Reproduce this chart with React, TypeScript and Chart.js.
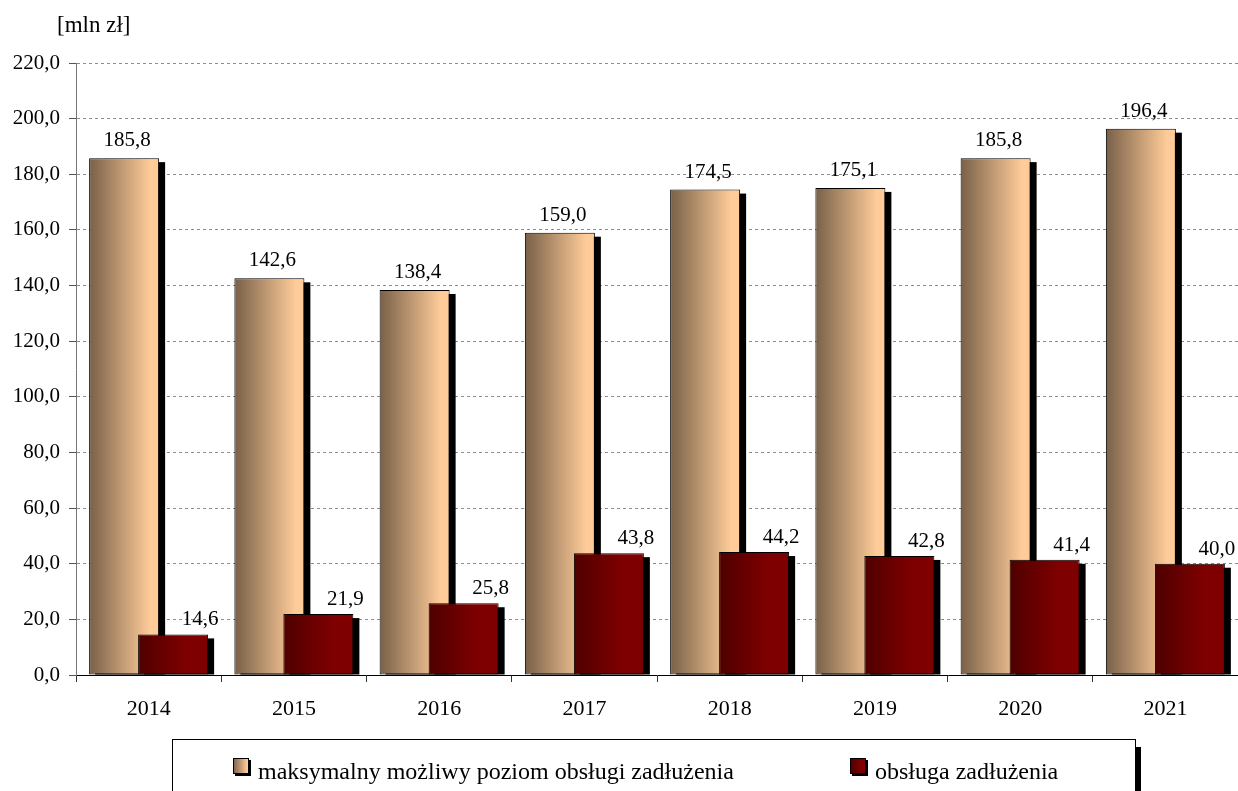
import React, { useEffect, useRef } from 'react';
import { Chart, registerables } from 'chart.js';

Chart.register(...registerables);

const categories = ['2014', '2015', '2016', '2017', '2018', '2019', '2020', '2021'];
const maxDebtService = [185.8, 142.6, 138.4, 159.0, 174.5, 175.1, 185.8, 196.4];
const debtService = [14.6, 21.9, 25.8, 43.8, 44.2, 42.8, 41.4, 40.0];
const seriesNames = ['maksymalny możliwy poziom obsługi zadłużenia', 'obsługa zadłużenia'];
const unitLabel = '[mln zł]';
const yMin = 0;
const yMax = 220;
const yStep = 20;

const FONT = '"Liberation Serif", "Times New Roman", serif';
const fmt = (v: number) => v.toFixed(1).replace('.', ',');

function beigeGrad(ctx: CanvasRenderingContext2D, x0: number, x1: number) {
  const g = ctx.createLinearGradient(x0, 0, x1, 0);
  g.addColorStop(0, '#786048');
  g.addColorStop(0.88, '#ffcc99');
  g.addColorStop(1, '#ffcc99');
  return g;
}
function redGrad(ctx: CanvasRenderingContext2D, x0: number, x1: number) {
  const g = ctx.createLinearGradient(x0, 0, x1, 0);
  g.addColorStop(0, '#4e0000');
  g.addColorStop(0.7, '#7f0000');
  g.addColorStop(1, '#800000');
  return g;
}

const excelPlugin = {
  id: 'excelBars',
  beforeDatasetsDraw(chart: any) {
    const ctx: CanvasRenderingContext2D = chart.ctx;
    const area = chart.chartArea;
    [0, 1].forEach((di) => {
      const meta = chart.getDatasetMeta(di);
      meta.data.forEach((el: any) => {
        const { x, y, base, width } = el.getProps(['x', 'y', 'base', 'width'], true);
        const l = x - width / 2;
        const r = x + width / 2;
        ctx.save();
        ctx.fillStyle = '#000';
        ctx.fillRect(l + 6, y + 4, width, base - y - 4);
        ctx.restore();
        el.options = Object.assign({}, el.options, {
          backgroundColor: di === 0 ? beigeGrad(ctx, l, r) : redGrad(ctx, l, r),
        });
        el.draw(ctx, area);
      });
    });
    return false;
  },
  afterDraw(chart: any) {
    const ctx: CanvasRenderingContext2D = chart.ctx;
    ctx.save();
    ctx.font = `21px ${FONT}`;
    ctx.fillStyle = '#000';
    ctx.textBaseline = 'alphabetic';
    ctx.textAlign = 'center';
    chart.getDatasetMeta(0).data.forEach((el: any, i: number) => {
      ctx.fillText(fmt(maxDebtService[i]), el.x + 3, el.y - 12);
    });
    chart.getDatasetMeta(1).data.forEach((el: any, i: number) => {
      ctx.fillText(fmt(debtService[i]), el.x + 27, el.y - 9);
    });

    // unit label
    ctx.font = `23px ${FONT}`;
    ctx.textAlign = 'left';
    ctx.fillText(unitLabel, 57, 32);

    // legend box
    const lx = 172, ly = 739, lw = 963, lh = 70;
    ctx.fillStyle = '#000';
    ctx.fillRect(lx + lw, ly + 8, 6, lh);
    ctx.fillStyle = '#fff';
    ctx.fillRect(lx, ly, lw, lh);
    ctx.strokeStyle = '#000';
    ctx.lineWidth = 1;
    ctx.strokeRect(lx + 0.5, ly + 0.5, lw, lh);

    ctx.font = `24px ${FONT}`;
    const items = [
      { x: 233, grad: beigeGrad, text: seriesNames[0] },
      { x: 850, grad: redGrad, text: seriesNames[1] },
    ];
    items.forEach((it) => {
      const sx = it.x, sy = 758, sw = 16, sh = 16;
      ctx.fillStyle = '#000';
      ctx.fillRect(sx + 2, sy + 2, sw, sh);
      ctx.fillStyle = it.grad(ctx, sx, sx + sw);
      ctx.fillRect(sx, sy, sw, sh);
      ctx.strokeStyle = '#000';
      ctx.strokeRect(sx + 0.5, sy + 0.5, sw - 1, sh - 1);
      ctx.fillStyle = '#000';
      ctx.textAlign = 'left';
      ctx.fillText(it.text, sx + 25, 779);
    });
    ctx.restore();
  },
};

export default function App() {
  const ref = useRef<HTMLCanvasElement>(null);
  useEffect(() => {
    const chart = new Chart(ref.current as HTMLCanvasElement, {
      type: 'bar',
      data: {
        labels: categories,
        datasets: [
          {
            label: seriesNames[0],
            data: maxDebtService,
            backgroundColor: () => '#ffcc99',
            borderColor: '#000',
            borderWidth: 1,
            borderSkipped: false,
            categoryPercentage: 0.6747,
            barPercentage: 1.4286,
          },
          {
            label: seriesNames[1],
            data: debtService,
            backgroundColor: () => '#800000',
            borderColor: '#000',
            borderWidth: 1,
            borderSkipped: false,
            categoryPercentage: 0.6747,
            barPercentage: 1.4286,
          },
        ],
      },
      options: {
        responsive: false,
        animation: false,
        events: [],
        layout: { padding: { top: 63, left: 0, right: 0, bottom: 0 } },
        plugins: {
          legend: { display: false },
          tooltip: { enabled: false },
        },
        scales: {
          x: {
            type: 'category',
            offset: true,
            grid: {
              offset: true,
              drawOnChartArea: false,
              drawTicks: true,
              tickLength: 7,
              tickColor: '#333',
              color: '#333',
            },
            border: { display: true, color: '#000', width: 1 },
            ticks: {
              font: { family: FONT, size: 22 },
              color: '#000',
              padding: 14,
              maxRotation: 0,
            },
            afterFit: (s: any) => {
              s.height = 116;
            },
          },
          y: {
            min: yMin,
            max: yMax,
            ticks: {
              stepSize: yStep,
              callback: (v: any) => fmt(Number(v)),
              font: { family: FONT, size: 21 },
              color: '#000',
              padding: 9,
            },
            grid: {
              color: (c: any) => (c.tick && c.tick.value === 0 ? 'rgba(0,0,0,0)' : '#8c8c8c'),
              tickColor: '#555',
              tickLength: 7,
              lineWidth: 1,
            },
            border: { display: true, color: '#777', width: 1, dash: [3, 3] },
            afterFit: (s: any) => {
              s.width = 76;
            },
          },
        },
      },
      plugins: [excelPlugin],
    } as any);
    return () => chart.destroy();
  }, []);
  return (
    <div style={{ position: 'absolute', left: 0, top: 0, width: 1238, height: 791, background: '#fff' }}>
      <canvas ref={ref} width={1238} height={791} style={{ display: 'block' }} />
    </div>
  );
}
